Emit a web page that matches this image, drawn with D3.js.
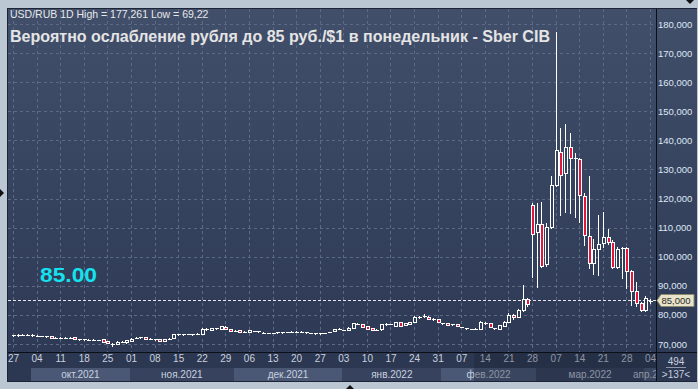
<!DOCTYPE html>
<html>
<head>
<meta charset="utf-8">
<script src="https://cdn.jsdelivr.net/npm/d3@7"></script>
<style>
  html, body { margin: 0; padding: 0; background: #bcc7d4; }
  svg { display: block; font-family: "Liberation Sans", Arial, sans-serif; }
</style>
</head>
<body>
<div id="chart"></div>
<script>
// USD/RUB daily candles, 27.09.2021 - 04.04.2022 (weekdays)
var opens = [
  73.0,73.1,73.1,73.2,73.1, 72.75,72.7,72.6,72.6,72.1, 72.15,72.2,72.15,72.3,71.55, 71.55,71.5,71.45,71.35,71.6,
  71.0,69.95,69.9,70.75,70.6, 71.2,72.1,72.25,72.4,71.75, 71.65,71.6,71.0,71.75,72.0, 73.25,73.35,73.35,73.4,73.55,
  73.4,75.3,74.8,75.35,75.3, 75.95,75.2,74.55,74.65,74.2, 74.1,74.45,74.55,73.9,73.8, 73.75,73.95,73.95,74.05,74.15,
  74.2,74.2,73.95,73.8,73.65, 73.65,73.75,74.05,74.4,75.1, 74.75,74.8,75.6,76.95,76.8, 76.1,75.4,74.85,75.0,76.85,
  76.85,76.3,77.45,76.5,76.9, 77.7,79.15,79.65,79.4,78.55, 78.5,77.05,77.1,76.75,76.8, 75.9,75.35,75.15,75.25,75.3,
  77.25,77.1,75.45,75.3,76.3, 77.7,80.0,79.3,81.7,85.4, 117.8,108.4,111.1,97.4,110.3, 124.8,136.1,128.7,137.6,133.8,
  133.5,121.0,107.1,97.7,102.6, 104.6,106.9,105.2,96.6,102.6, 102.9,95.1,88.2,84.0,81.7, 84.9
];
var highs = [
  73.2,73.3,73.3,73.3,73.3, 73.0,72.9,72.8,72.7,72.3, 72.3,72.3,72.3,72.4,71.7, 71.65,71.6,71.55,71.5,71.7,
  71.1,70.3,70.9,70.95,71.5, 71.9,72.4,72.5,72.5,71.9, 71.85,71.7,71.7,71.9,73.5, 73.5,73.5,73.5,73.6,73.7,
  75.4,75.4,75.5,75.5,76.2, 76.05,75.3,74.7,74.75,74.35, 74.8,74.6,74.6,74.0,73.9, 73.85,74.15,74.15,74.2,74.3,
  74.4,74.4,74.1,73.9,73.8, 73.75,73.85,74.2,75.3,75.35, 74.9,75.7,77.2,77.2,76.9, 76.2,75.5,75.0,76.9,77.1,
  77.0,77.55,77.55,77.3,77.6, 79.5,79.5,80.3,79.5,78.8, 78.6,77.2,77.2,76.9,76.9, 76.0,75.45,75.25,75.4,77.8,
  77.7,77.2,75.6,76.6,77.8, 80.5,80.3,82.0,90.3,85.8, 118.3,118.4,118.9,111.5,127.9, 177.261,144.1,145.6,142.4,135.6,
  133.8,121.8,127.8,106.2,114.3, 115.5,109.4,105.6,103.2,103.5, 103.3,95.4,91.2,84.3,86.5, 85.3
];
var lows = [
  72.9,72.9,73.0,73.0,72.9, 72.6,72.6,72.5,72.0,72.0, 72.0,72.1,72.1,71.65,71.5, 71.5,71.45,71.4,71.3,70.7,
  70.2,69.22,69.85,70.6,70.5, 71.1,72.0,72.1,71.75,71.65, 71.5,70.95,70.9,71.6,71.9, 73.1,73.25,73.3,73.25,73.45,
  73.35,74.7,74.7,75.25,75.2, 75.1,74.3,74.45,74.0,74.1, 74.0,74.4,74.0,73.8,73.75, 73.7,73.85,73.85,74.0,74.1,
  74.05,74.05,73.9,73.75,73.6, 73.6,73.7,74.0,74.35,75.0, 74.7,74.75,75.5,76.8,75.85, 75.25,74.85,74.8,74.9,76.7,
  76.8,76.2,76.2,76.4,76.8, 77.6,78.9,79.2,78.5,78.4, 77.4,77.0,76.45,76.7,76.05, 75.85,75.3,75.1,75.2,75.2,
  76.9,75.8,75.3,75.2,76.2, 77.6,78.6,79.2,81.2,83.0, 93.1,89.7,96.3,96.8,109.8, 124.2,114.3,115.5,114.9,113.6,
  112.0,104.0,96.0,94.0,93.7, 103.5,104.3,96.0,96.2,92.8, 89.4,83.4,83.2,81.5,81.3, 84.2
];
var closes = [
  73.1,73.1,73.2,73.2,73.1, 72.8,72.75,72.65,72.05,72.2, 72.2,72.2,72.2,71.7,71.6, 71.6,71.5,71.5,71.4,70.75,
  70.3,70.1,70.8,70.8,71.4, 71.8,72.2,72.3,71.8,71.8, 71.7,71.0,71.6,71.8,73.4, 73.3,73.4,73.4,73.45,73.6,
  75.3,74.75,75.4,75.4,76.1, 75.2,74.4,74.6,74.1,74.25, 74.7,74.5,74.05,73.95,73.8, 73.8,74.0,74.0,74.1,74.2,
  74.25,74.25,74.0,73.8,73.7, 73.7,73.8,74.1,75.2,75.2, 74.85,75.6,77.1,77.0,75.9, 75.3,74.9,74.9,76.8,76.9,
  76.9,77.45,76.3,77.2,77.45, 79.4,79.2,79.7,78.6,78.6, 77.45,77.1,76.5,76.8,76.1, 75.95,75.4,75.2,75.3,77.7,
  77.3,75.9,75.5,76.5,77.7, 80.0,79.4,81.7,85.4,83.6, 107.8,111.1,96.9,110.3,124.7, 136.7,128.1,137.6,133.8,133.5,
  121.2,107.5,97.7,102.6,104.3, 106.9,104.9,96.6,102.6,103.1, 95.1,88.2,84.0,81.7,85.7, 84.4
];

var weekLabels = ["27","04","11","18","25","01","08","15","22","29","06","13","20","27",
                  "03","10","17","24","31","07","14","21","28","07","14","21","28","04"];
var monthLabels = ["окт.2021","ноя.2021","дек.2021","янв.2022","фев.2022","мар.2022","апр.2"];
var monthStart = [4, 25, 47, 70, 91, 111, 134];   // index of first trading day of month
var priceTicks = [70,80,90,100,110,120,130,140,150,160,170,180];
var levelLine = 85;
var cornerTop = "494", cornerBottom = ">137<";

var days = d3.timeDays(new Date(2021, 8, 27), new Date(2022, 3, 5))
             .filter(function(d){ return d.getDay() % 6 != 0; });

var candles = days.map(function(d, i){
  return {date: d, i: i, o: opens[i], h: highs[i], l: lows[i], c: closes[i]};
});

function init(){
  var W = 698, H = 389;
  var left = 8, top = 9, right = 656, bottom = 352;

  var x = d3.scaleLinear().domain([0, candles.length - 1]).range([13, 650]);
  var y = d3.scaleLinear().domain([70, 180]).range([344, 24]);

  var svg = d3.select("#chart").append("svg")
              .attr("width", W).attr("height", H);

  var defs = svg.append("defs");
  var grad = defs.append("linearGradient").attr("id", "bg")
                 .attr("gradientUnits", "userSpaceOnUse")
                 .attr("x1", 0).attr("y1", top).attr("x2", 0).attr("y2", bottom);
  grad.append("stop").attr("offset", 0).attr("stop-color", "#414f6b");
  grad.append("stop").attr("offset", 1).attr("stop-color", "#2d3955");
  defs.append("clipPath").attr("id", "plotclip")
      .append("rect").attr("x", left).attr("y", top).attr("width", right - left).attr("height", bottom - top);
  defs.append("clipPath").attr("id", "axclip")
      .append("rect").attr("x", left).attr("y", bottom).attr("width", right - left).attr("height", 381 - bottom);

  // frame
  svg.append("rect").attr("width", W).attr("height", H).attr("fill", "#bcc7d4");
  svg.append("rect").attr("x", left - 1).attr("y", top - 1).attr("width", W - left).attr("height", 381 - top + 2)
     .attr("fill", "#1c2435");
  svg.append("rect").attr("x", left).attr("y", top).attr("width", W - left - 1).attr("height", bottom - top)
     .attr("fill", "url(#bg)");

  // bottom axis band
  svg.append("rect").attr("x", left).attr("y", bottom + 1).attr("width", W - left - 1).attr("height", 381 - bottom - 1)
     .attr("fill", "#2c3751");

  // grid
  var grid = svg.append("g").attr("clip-path", "url(#plotclip)");
  grid.selectAll(".hg").data(priceTicks).enter().append("line")
      .attr("x1", left).attr("x2", right)
      .attr("y1", function(d){ return Math.round(y(d)) + 0.5; })
      .attr("y2", function(d){ return Math.round(y(d)) + 0.5; })
      .attr("stroke", "#5d6a86").attr("stroke-dasharray", "3,3");
  grid.selectAll(".vg").data(d3.range(0, candles.length, 5)).enter().append("line")
      .attr("x1", function(d){ return Math.round(x(d)) + 0.5; })
      .attr("x2", function(d){ return Math.round(x(d)) + 0.5; })
      .attr("y1", top).attr("y2", bottom)
      .attr("stroke", "#5d6a86").attr("stroke-dasharray", "3,3");

  // 85 level
  grid.append("line").attr("x1", left).attr("x2", right)
      .attr("y1", Math.round(y(levelLine)) + 0.5).attr("y2", Math.round(y(levelLine)) + 0.5)
      .attr("stroke", "#e6e6e6").attr("stroke-dasharray", "3,2");

  // candles
  var g = svg.append("g").attr("clip-path", "url(#plotclip)");
  function px(d){ return Math.round(x(d.i)); }
  g.selectAll(".wick").data(candles).enter().append("line")
   .attr("x1", function(d){ return px(d) + 0.5; })
   .attr("x2", function(d){ return px(d) + 0.5; })
   .attr("y1", function(d){ return Math.round(y(d.h)); })
   .attr("y2", function(d){ return Math.round(y(d.l)) + 1; })
   .attr("stroke", "#ffffff");

  candles.forEach(function(d){
    var t = Math.round(y(Math.max(d.o, d.c)));
    var b = Math.round(y(Math.min(d.o, d.c)));
    if (b - t < 2) {
      g.append("line").attr("x1", px(d) - 1).attr("x2", px(d) + 3)
       .attr("y1", t + 0.5).attr("y2", t + 0.5).attr("stroke", "#ffffff");
    } else {
      g.append("rect").attr("x", px(d) - 0.5).attr("y", t + 0.5)
       .attr("width", 3).attr("height", b - t)
       .attr("fill", d.c < d.o ? "#e3173c" : "url(#bg)")
       .attr("stroke", "#ffffff");
    }
  });

  // separators
  svg.append("line").attr("x1", right + 0.5).attr("x2", right + 0.5).attr("y1", top).attr("y2", 381)
     .attr("stroke", "#0b0f18");
  svg.append("line").attr("x1", left).attr("x2", W - 1).attr("y1", bottom + 0.5).attr("y2", bottom + 0.5)
     .attr("stroke", "#0b0f18");

  // right price axis
  var ru = d3.formatLocale({decimal: ",", thousands: " ", grouping: [3], currency: ["", ""]});
  var yAxis = d3.axisRight(y).tickValues(priceTicks).tickSize(0).tickPadding(2)
                .tickFormat(ru.format(".3f"));
  var ya = svg.append("g").attr("transform", "translate(" + right + ",0)").call(yAxis);
  ya.select(".domain").remove();
  ya.selectAll("text").attr("fill", "#dfe7f4").style("font-size", "9.5px")
    .style("font-family", "'Liberation Sans', Arial, sans-serif");

  // price tag
  var ty = Math.round(y(levelLine));
  svg.append("path")
     .attr("d", "M" + (right + 1) + "," + (ty + 0.5) + " L" + (right + 5) + "," + (ty - 5.5) +
                " L" + 694 + "," + (ty - 5.5) + " L" + 694 + "," + (ty + 6.5) +
                " L" + (right + 5) + "," + (ty + 6.5) + " Z")
     .attr("fill", "#e7e4c9").attr("stroke", "#8d8a72");
  svg.append("text").attr("x", 676).attr("y", ty + 4).attr("text-anchor", "middle")
     .attr("fill", "#2a2a2a").style("font-size", "9.5px").text(ru.format(".3f")(levelLine));

  // month bands
  var ax = svg.append("g").attr("clip-path", "url(#axclip)");
  ax.selectAll(".mb").data(monthLabels).enter().append("rect")
    .attr("x", function(d, k){ return Math.round(x(monthStart[k])) - 1; })
    .attr("y", 368)
    .attr("width", function(d, k){
      var e = k < monthLabels.length - 1 ? x(monthStart[k + 1]) : 700;
      return Math.round(e) - Math.round(x(monthStart[k]));
    })
    .attr("height", 13)
    .attr("fill", function(d, k){ return k % 2 == 0 ? "#4a5876" : "#36425e"; });
  ax.selectAll(".ml").data(monthLabels).enter().append("text")
    .attr("x", function(d, k){
      if (k == monthLabels.length - 1) return 633;
      return (x(monthStart[k]) + x(monthStart[k + 1])) / 2 - 1;
    })
    .attr("y", 378)
    .attr("text-anchor", function(d, k){ return k == monthLabels.length - 1 ? "start" : "middle"; })
    .attr("fill", "#c9d1de").style("font-size", "10px").text(function(d){ return d; });

  var xAxis = d3.axisBottom(x).tickValues(d3.range(0, candles.length, 5)).tickSize(0).tickPadding(0)
                .tickFormat(function(d, k){ return weekLabels[k]; });
  var xa = ax.append("g").attr("transform", "translate(0," + (bottom + 3) + ")").call(xAxis);
  xa.select(".domain").remove();
  xa.selectAll("text").attr("fill", "#c9d1de").attr("dy", "0.71em").style("font-size", "10px")
    .style("font-family", "'Liberation Sans', Arial, sans-serif");

  // dim overlay over navigator
  ax.append("rect").attr("x", 474).attr("y", bottom + 1).attr("width", right - 474).attr("height", 381 - bottom - 1)
    .attr("fill", "#1a2234").attr("opacity", 0.35);

  // corner cell
  svg.append("text").attr("x", 676).attr("y", 365).attr("text-anchor", "middle")
     .attr("fill", "#c9d1de").style("font-size", "10px").text(cornerTop);
  svg.append("line").attr("x1", 666).attr("x2", 686).attr("y1", 367.5).attr("y2", 367.5).attr("stroke", "#8d96a8");
  svg.append("text").attr("x", 676).attr("y", 378).attr("text-anchor", "middle")
     .attr("fill", "#c9d1de").style("font-size", "10px").text(cornerBottom);

  // texts
  var lo = d3.min(lows), hi = d3.max(highs);
  svg.append("text").attr("x", 10).attr("y", 18).attr("fill", "#e8e8e8")
     .style("font-size", "10.5px")
     .text("USD/RUB 1D High = " + ru.format(".3f")(hi) + " Low = " + ru.format(".2f")(lo));
  svg.append("text").attr("x", 10).attr("y", 42).attr("fill", "#e4e4e4")
     .style("font-size", "17px").style("font-weight", "bold")
     .attr("textLength", 540).attr("lengthAdjust", "spacingAndGlyphs")
     .text("Вероятно ослабление рубля до 85 руб./$1 в понедельник - Sber CIB");
  svg.append("text").attr("x", 40).attr("y", 282).attr("fill", "#14e3ee")
     .style("font-size", "20px").style("font-weight", "bold")
     .attr("textLength", 57).attr("lengthAdjust", "spacingAndGlyphs")
     .text(levelLine.toFixed(2));

  // frame arrows
  svg.append("path").attr("d", "M686,0 L694,0 L690,4 Z").attr("fill", "#111");
  svg.append("path").attr("d", "M0,189 L4,193 L0,197 Z").attr("fill", "#111");
  svg.append("path").attr("d", "M346,389 L354,389 L350,385 Z").attr("fill", "#111");
}

window.onload = init;
</script>
</body>
</html>
